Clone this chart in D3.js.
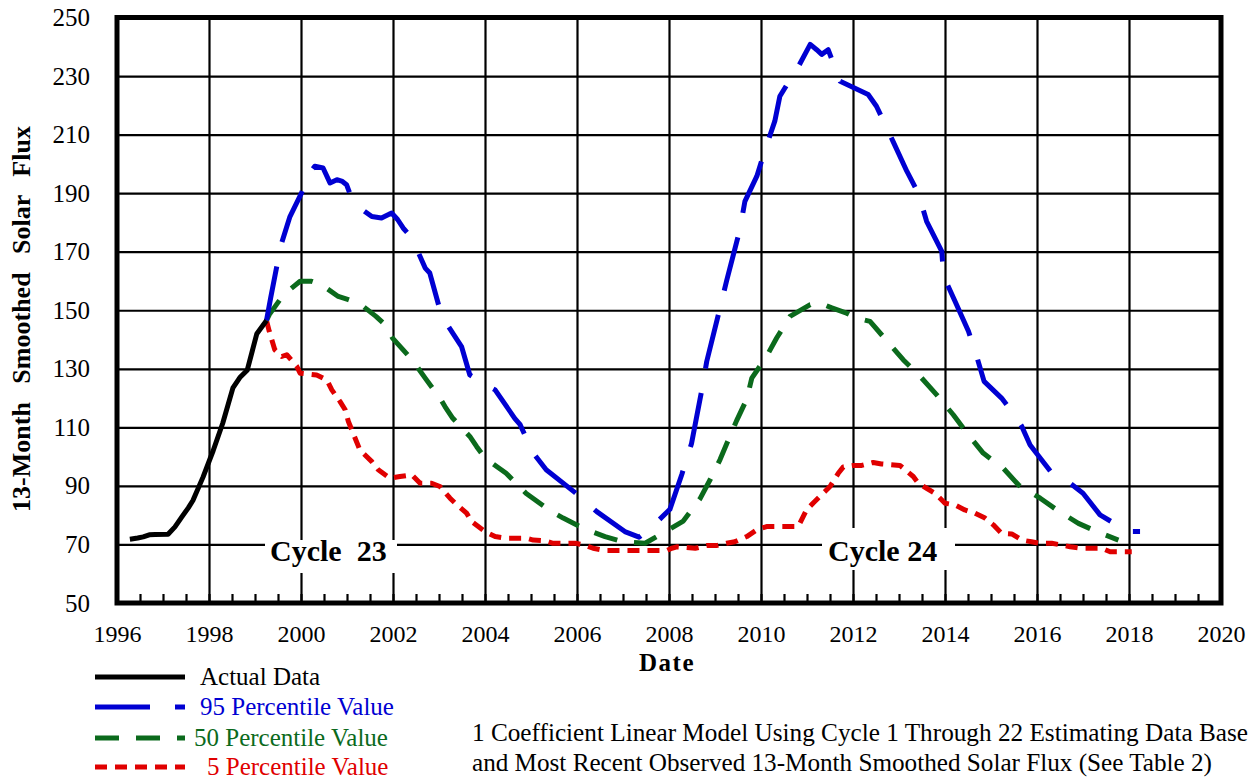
<!DOCTYPE html>
<html>
<head>
<meta charset="utf-8">
<script src="https://cdn.jsdelivr.net/npm/d3@7"></script>
<style>
  body { margin: 0; background: #fff; }
  text { font-family: "Liberation Serif", "Times New Roman", serif; }
</style>
</head>
<body>
<div id="chart"></div>
<script>
// [decimal year, 13-month smoothed flux]
const actualData = [
  [1996.28, 71.8], [1996.45, 72.2], [1996.57, 72.6], [1996.70, 73.3], [1996.83, 73.4],
  [1997.11, 73.5], [1997.26, 76], [1997.41, 79.4], [1997.55, 82.5], [1997.65, 85],
  [1997.87, 93], [1998.09, 102], [1998.30, 111.5], [1998.52, 123.5], [1998.67, 127],
  [1998.83, 129.5], [1999.04, 142], [1999.25, 146.5]
];

const p95Data = [
  [1999.25, 146.5], [1999.34, 154.2], [1999.56, 172], [1999.76, 182], [2000.01, 190],
  [2000.16, 196.3], [2000.30, 199.2], [2000.48, 198.6], [2000.63, 193.5], [2000.78, 194.6],
  [2000.90, 194], [2000.99, 192.9], [2001.14, 186.6], [2001.54, 182], [2001.75, 181.5],
  [2001.97, 183.2], [2002.10, 181], [2002.22, 178.1], [2002.41, 174.7], [2002.70, 164.4],
  [2002.80, 162.7], [2003.06, 147.9], [2003.49, 137.6], [2003.67, 127.9], [2003.96, 125.1],
  [2004.22, 122.8], [2004.65, 113], [2004.76, 111], [2005.05, 101.2], [2005.33, 95.5],
  [2005.96, 87.7], [2006.43, 81.2], [2007.04, 74.4], [2007.35, 72.5], [2007.66, 76.5],
  [2008.02, 82], [2008.28, 94], [2008.49, 104.5], [2008.71, 122.5], [2008.82, 132.5],
  [2009.11, 150.8], [2009.25, 159.9], [2009.54, 177.5], [2009.65, 187.2], [2009.91, 195.8],
  [2010.09, 204.9], [2010.30, 214.6], [2010.41, 223.1], [2010.60, 228], [2010.74, 231.1],
  [2011.07, 240.8], [2011.21, 239], [2011.32, 237.4], [2011.46, 239], [2011.72, 228.2],
  [2012.33, 223.7], [2012.51, 219.7], [2012.87, 207.7], [2013.17, 197.5], [2013.42, 190],
  [2013.60, 180.4], [2013.93, 170.1], [2013.97, 161.6], [2014.22, 153], [2014.51, 142.8],
  [2014.69, 134.2], [2014.85, 125.7], [2015.23, 120], [2015.48, 114.9], [2015.67, 110.3],
  [2015.85, 104], [2016.35, 93.8], [2016.72, 90.9], [2017.00, 87.5], [2017.37, 80.1],
  [2017.98, 74.4], [2018.24, 74.4]
];

const p50Data = [
  [1999.25, 146.5], [1999.31, 148.5], [1999.62, 155.3], [1999.98, 159.9], [2000.23, 159.9],
  [2000.45, 158.7], [2000.81, 154.7], [2001.03, 153.6], [2001.28, 152.2], [2001.63, 147.9],
  [2001.83, 145], [2001.99, 140.5], [2002.35, 134.2], [2002.52, 130.8], [2002.70, 126.8],
  [2003.02, 120], [2003.13, 117.1], [2003.30, 113.1], [2003.67, 106.9], [2003.82, 103.4],
  [2004.00, 99.5], [2004.46, 94.3], [2004.89, 87.5], [2005.27, 83.2], [2005.45, 81.2],
  [2005.70, 79], [2006.14, 75.5], [2006.32, 74.4], [2006.61, 72.7], [2007.01, 70.9],
  [2007.48, 70.4], [2007.88, 74], [2008.31, 78], [2008.67, 85.5], [2008.89, 92],
  [2009.11, 99], [2009.29, 105.7], [2009.47, 112.3], [2009.69, 119.6], [2009.80, 126.8],
  [2010.12, 134.2], [2010.34, 140.5], [2010.63, 147.9], [2011.07, 151.9], [2011.28, 152.5],
  [2011.54, 150.8], [2011.86, 149], [2012.08, 147.3], [2012.37, 146.2], [2012.70, 140.2],
  [2013.09, 133.1], [2013.46, 127.4], [2013.82, 121.1], [2014.18, 114.3], [2014.51, 107.4],
  [2014.83, 101.2], [2015.27, 96], [2015.60, 90.3], [2016.07, 85.8], [2016.43, 81.8],
  [2016.90, 77.2], [2017.30, 74.4], [2017.77, 71.5]
];

const p5Data = [
  [1999.25, 146.5], [1999.31, 142.8], [1999.43, 136.5], [1999.58, 134.2], [1999.69, 134.8],
  [1999.91, 130.8], [1999.98, 128.5], [2000.34, 127.9], [2000.56, 126.2], [2000.67, 122.8],
  [2000.85, 118.8], [2000.96, 116], [2001.03, 112], [2001.28, 102.3], [2001.54, 98.3],
  [2001.68, 95.5], [2001.93, 92.6], [2002.15, 93.2], [2002.41, 93.8], [2002.59, 90.9],
  [2002.84, 90.9], [2003.02, 89.8], [2003.24, 85.8], [2003.35, 84.1], [2003.60, 80.7],
  [2003.71, 77.8], [2004.00, 74.4], [2004.22, 72.7], [2004.47, 72.1], [2004.91, 72.1],
  [2005.05, 71.5], [2005.30, 71.3], [2005.48, 70.4], [2005.96, 70.4], [2006.17, 69.8],
  [2006.35, 68.7], [2006.61, 67.9], [2007.95, 67.9], [2008.06, 68.7], [2008.17, 69.2],
  [2008.57, 68.7], [2008.82, 69.6], [2009.03, 69.6], [2009.25, 70.4], [2009.43, 70.9],
  [2009.69, 72.7], [2009.91, 75], [2010.12, 76.1], [2010.81, 76.1], [2010.99, 81.8],
  [2011.13, 84.1], [2011.39, 88.1], [2011.50, 89.8], [2011.68, 94.3], [2011.79, 96.5],
  [2012.01, 97], [2012.19, 97], [2012.44, 98], [2012.62, 97.5], [2013.02, 97],
  [2013.31, 93.2], [2013.42, 90.9], [2013.60, 89.2], [2013.78, 87.5], [2014.00, 84.1],
  [2014.22, 83.5], [2014.43, 81.8], [2014.65, 80.7], [2014.87, 79], [2015.05, 76.7],
  [2015.23, 73.8], [2015.45, 73.6], [2015.67, 71.5], [2015.88, 70.9], [2016.07, 70.4],
  [2016.32, 70.4], [2016.54, 69.8], [2016.72, 69.2], [2016.97, 68.7], [2017.41, 68.7],
  [2017.59, 67.5], [2018.06, 67.5]
];

const xTicks = [1996, 1998, 2000, 2002, 2004, 2006, 2008, 2010, 2012, 2014, 2016, 2018, 2020];
const yTicks = [50, 70, 90, 110, 130, 150, 170, 190, 210, 230, 250];

const legendItems = [
  { label: "Actual Data", color: "#000000", dash: null, dx: 200 },
  { label: "95 Percentile Value", color: "#0000d2", dash: "55,25", dx: 200 },
  { label: "50 Percentile Value", color: "#0b6a1c", dash: "24,17", dx: 194 },
  { label: "5 Percentile Value", color: "#e00000", dash: "12,8", dx: 207 }
];

const width = 1260, height = 783;
const mLeft = 117, mRight = 1221, mTop = 17.5, mBottom = 603;

const svg = d3.select("#chart").append("svg")
    .attr("width", width)
    .attr("height", height);

const x = d3.scaleLinear().domain([1996, 2020]).range([mLeft, mRight]);
const y = d3.scaleLinear().domain([50, 250]).range([mBottom, mTop]);

// grid lines
svg.append("g")
    .attr("transform", `translate(0,${mBottom})`)
    .call(d3.axisBottom(x).tickValues(xTicks).tickSize(-(mBottom - mTop)).tickFormat(""))
    .call(g => g.select(".domain").remove())
    .call(g => g.selectAll("line").attr("stroke", "#000").attr("stroke-width", 2.2));

svg.append("g")
    .attr("transform", `translate(${mLeft},0)`)
    .call(d3.axisLeft(y).tickValues(yTicks).tickSize(-(mRight - mLeft)).tickFormat(""))
    .call(g => g.select(".domain").remove())
    .call(g => g.selectAll("line").attr("stroke", "#000").attr("stroke-width", 2.2));

// minor ticks every half year
svg.append("g")
    .attr("transform", `translate(0,${mBottom})`)
    .call(d3.axisBottom(x).tickValues(d3.range(1996, 2020.01, 0.5)).tickSize(-9).tickFormat(""))
    .call(g => g.select(".domain").remove())
    .call(g => g.selectAll("line").attr("stroke", "#000").attr("stroke-width", 2.2));

// tick labels
svg.append("g")
    .attr("transform", `translate(0,${mBottom})`)
    .call(d3.axisBottom(x).tickValues(xTicks).tickSize(0).tickPadding(22).tickFormat(d3.format("d")))
    .call(g => g.select(".domain").remove())
    .call(g => g.selectAll("text").attr("font-size", 24).attr("fill", "#000"));

svg.append("g")
    .attr("transform", `translate(${mLeft},0)`)
    .call(d3.axisLeft(y).tickValues(yTicks).tickSize(0).tickPadding(27))
    .call(g => g.select(".domain").remove())
    .call(g => g.selectAll("text").attr("font-size", 25).attr("fill", "#000"));

// frame
svg.append("rect")
    .attr("x", mLeft).attr("y", mTop)
    .attr("width", mRight - mLeft).attr("height", mBottom - mTop)
    .attr("fill", "none").attr("stroke", "#000").attr("stroke-width", 5);

// cycle labels with white boxes
const cycles = [
  { text: "Cycle\u00a0\u00a023", x: 270, box: [265, 540, 132, 33] },
  { text: "Cycle 24", x: 828, box: [822, 528, 133, 42] }
];
cycles.forEach(c => {
  svg.append("rect").attr("x", c.box[0]).attr("y", c.box[1])
      .attr("width", c.box[2]).attr("height", c.box[3]).attr("fill", "#fff");
  svg.append("text").attr("x", c.x).attr("y", 561)
      .attr("font-size", 30).attr("font-weight", "bold").text(c.text);
});

const line = d3.line().x(d => x(d[0])).y(d => y(d[1]));

const series = [
  { data: p5Data, color: legendItems[3].color, dash: legendItems[3].dash },
  { data: p50Data, color: legendItems[2].color, dash: legendItems[2].dash },
  { data: p95Data, color: legendItems[1].color, dash: legendItems[1].dash },
  { data: actualData, color: legendItems[0].color, dash: null }
];

svg.append("g").selectAll("path")
    .data(series)
    .join("path")
    .attr("d", d => line(d.data))
    .attr("fill", "none")
    .attr("stroke", d => d.color)
    .attr("stroke-width", 5)
    .attr("stroke-linejoin", "round")
    .attr("stroke-dasharray", d => d.dash);

// axis titles
svg.append("text")
    .attr("x", 667).attr("y", 671)
    .attr("text-anchor", "middle")
    .attr("font-size", 25).attr("font-weight", "bold")
    .attr("letter-spacing", 1.5)
    .text("Date");

svg.append("text")
    .attr("transform", "translate(30,319) rotate(-90)")
    .attr("text-anchor", "middle")
    .attr("font-size", 26).attr("font-weight", "bold")
    .attr("word-spacing", 12)
    .text("13-Month Smoothed Solar Flux");

// legend
const legendY = [677, 707, 738, 767];
const leg = svg.append("g");
legendItems.forEach((item, i) => {
  leg.append("line")
      .attr("x1", 95).attr("x2", 185)
      .attr("y1", legendY[i]).attr("y2", legendY[i])
      .attr("stroke", item.color).attr("stroke-width", 5)
      .attr("stroke-dasharray", item.dash);
  leg.append("text")
      .attr("x", item.dx).attr("y", legendY[i] + 8)
      .attr("font-size", 25)
      .attr("fill", item.color)
      .text(item.label);
});

// note
const noteLines = [
  "1 Coefficient Linear Model Using Cycle 1 Through 22 Estimating Data Base",
  "and Most Recent Observed 13-Month Smoothed Solar Flux (See Table 2)"
];
const noteWidths = [776, 740];
noteLines.forEach((t, i) => {
  svg.append("text")
      .attr("x", 472).attr("y", 741 + i * 30)
      .attr("font-size", 25)
      .attr("textLength", noteWidths[i])
      .attr("lengthAdjust", "spacingAndGlyphs")
      .text(t);
});
</script>
</body>
</html>
